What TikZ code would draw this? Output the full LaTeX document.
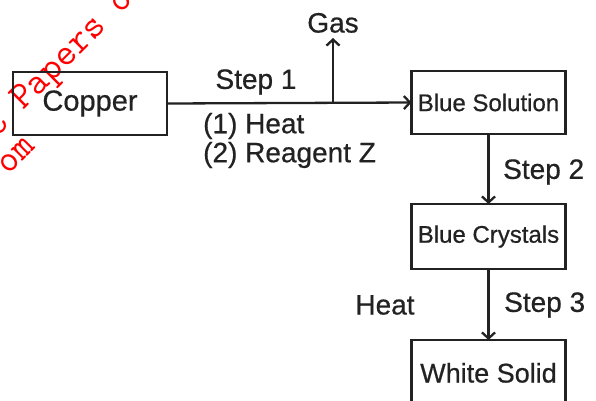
\documentclass[tikz,border=0pt]{standalone}
\usepackage{fontspec}
\setmainfont{Liberation Sans}[FakeBold=0.6]
\usetikzlibrary{arrows.meta}
\definecolor{ink}{HTML}{222222}
\begin{document}
\begin{tikzpicture}[x=1pt,y=-1pt,
  box/.style={draw=ink, line width=2.3pt, minimum width=154pt, inner sep=0pt, outer sep=0pt},
  lbl/.style={text=ink, font=\fontsize{28}{30}\selectfont, inner sep=0pt},
  blbl/.style={font=\fontsize{24}{26}\selectfont, text=ink},
  arr/.style={draw=ink, line width=2.3pt, -{Straight Barb[length=6pt,width=13pt]}},
  wm/.style={text=red, font=\ttfamily\fontsize{38}{40}\selectfont, rotate=45, inner sep=0pt}]
\clip (0,0) rectangle (596,400);
\fill[white] (0,0) rectangle (596,400);
% watermark
\node[wm] (wm1) at (60,64) {C Papers o};
\node[wm] (wm2) at (17,156) {om};
% boxes
\node[box, minimum height=63pt, blbl, font=\fontsize{29}{31}\selectfont] (cu) at (90,103.5) {Copper};
\node[box, minimum height=63pt, blbl] (bs) at (488.5,102.5) {Blue Solution};
\node[box, minimum height=65pt, blbl] (bc) at (488.5,236.5) {Blue Crystals};
\node[box, anchor=north, text height=42.5pt, text depth=47.5pt, blbl, font=\fontsize{27}{29}\selectfont] (ws) at (488.5,340) {White Solid};
% gas
\node[lbl, anchor=south, inner ysep=5pt] (gas) at (333,38) {Gas};
\coordinate (br) at (333,103);
% connectors
\draw[arr] (cu.east) -- (bs.west);
\draw[arr] (br) -- (gas.south);
\draw[arr] (bs.south) -- (bc.north);
\draw[arr] (bc.south) -- (ws.north);
% labels
\node[lbl] (s1) at (256,82) {Step 1};
\node[lbl, anchor=west] (h1) at (203,126) {(1) Heat};
\node[lbl, anchor=west] (rz) at (203,155) {(2) Reagent Z};
\node[lbl, anchor=west] (s2) at (503,172) {Step 2};
\node[lbl] (h3) at (385,305) {Heat};
\node[lbl, anchor=west] (s3) at (504,305) {Step 3};
\end{tikzpicture}
\end{document}
